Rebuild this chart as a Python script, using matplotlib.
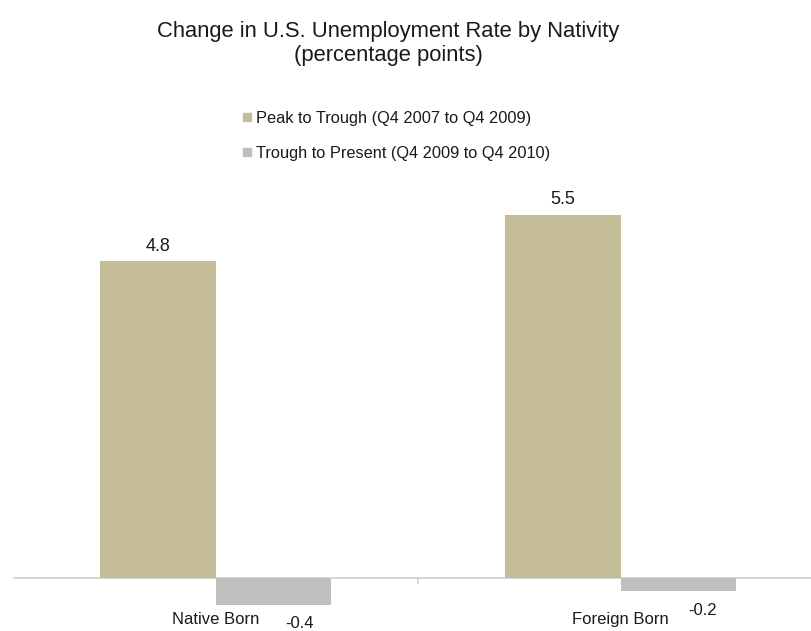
import matplotlib
matplotlib.use("Agg")
import matplotlib.pyplot as plt
from matplotlib.lines import Line2D
import numpy as np

categories = ["Native Born", "Foreign Born"]
peak_to_trough = [4.8, 5.5]
trough_to_present = [-0.4, -0.2]
series_names = ["Peak to Trough (Q4 2007 to Q4 2009)",
                "Trough to Present (Q4 2009 to Q4 2010)"]

TAN = "#C4BD97"
GREY = "#BFBFBF"
TXT = "#1a1a1a"

plt.rcParams['font.family'] = ['Liberation Sans', 'DejaVu Sans']

W, H = 811, 631
fig = plt.figure(figsize=(W / 100, H / 100), dpi=100)
ax = fig.add_axes([13 / W, 0, 810 / W, 451 / H])

x = np.arange(len(categories))
w = 0.284
ax.bar(x - w / 2, peak_to_trough, w, color=TAN)
ax.bar(x + w / 2, trough_to_present, w, color=GREY)

ax.set_xlim(-0.5, 1.5)
ax.set_ylim(-0.80, 6.03)
ax.axhline(0, color="#D0D0D0", lw=1.2, zorder=0)
ax.plot([0.5, 0.5], [0, -0.08], color="#D0D0D0", lw=1.2)
for s in ax.spines.values():
    s.set_visible(False)
ax.set_xticks([])
ax.set_yticks([])

# value labels
for i, v in enumerate(peak_to_trough):
    ax.annotate(f"{v}", (i - w / 2, v), xytext=(0, 15), textcoords="offset pixels",
                ha="center", va="center", fontsize=13, color=TXT)
neg_off = [(26, -45), (25, -32)]
for i, v in enumerate(trough_to_present):
    ax.annotate(f"{v}", (i + w / 2, 0), xytext=neg_off[i], textcoords="offset pixels",
                ha="center", va="center", fontsize=12, color=TXT)

# category labels
for i, c in enumerate(categories):
    ax.annotate(c, (i, 0), xytext=(0, -41), textcoords="offset pixels",
                ha="center", va="center", fontsize=12, color=TXT)

# title
fig.text(388 / W, 1 - 31 / H, "Change in U.S. Unemployment Rate by Nativity",
         ha="center", va="center", fontsize=15.8, color=TXT)
fig.text(388 / W, 1 - 56 / H, "(percentage points)",
         ha="center", va="center", fontsize=15.8, color=TXT)

# legend
handles = [Line2D([], [], marker="s", ls="", color=TAN, markersize=5.5),
           Line2D([], [], marker="s", ls="", color=GREY, markersize=5.5)]
fig.legend(handles, series_names, loc="upper left",
           bbox_to_anchor=(228 / W, 1 - 96 / H), frameon=False,
           handlelength=0.5, handletextpad=0.3, labelspacing=1.25,
           fontsize=11.8, labelcolor=TXT)

fig.savefig("out.png", dpi=100)
